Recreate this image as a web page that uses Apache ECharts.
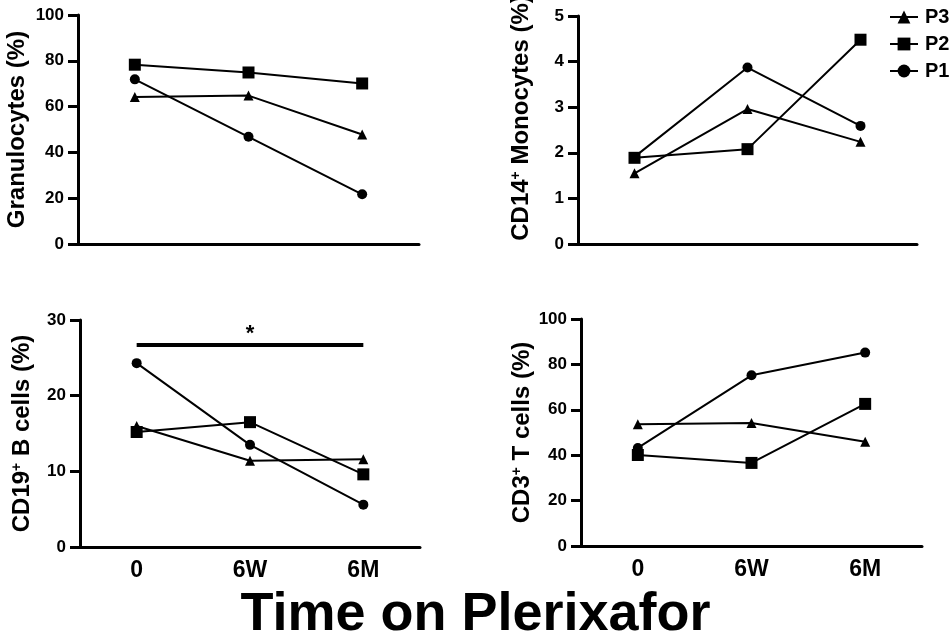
<!DOCTYPE html>
<html>
<head>
<meta charset="utf-8">
<script src="https://cdn.jsdelivr.net/npm/echarts@6/dist/echarts.min.js"></script>
<style>
  html, body { margin: 0; padding: 0; background: #fff; }
  #chart { width: 951px; height: 638px; }
</style>
</head>
<body>
<div id="chart"></div>
<script>
// time points on x
var timepoints = ['0', '6W', '6M'];

// granulocytes (%)
var granP1 = [71.9, 46.8, 21.7];
var granP2 = [78.3, 74.9, 70.1];
var granP3 = [64.2, 64.8, 47.8];

// CD14+ monocytes (%)
var monoP1 = [1.91, 3.87, 2.59];
var monoP2 = [1.89, 2.08, 4.48];
var monoP3 = [1.55, 2.96, 2.24];

// CD19+ B cells (%)
var bP1 = [24.3, 13.5, 5.6];
var bP2 = [15.2, 16.5, 9.6];
var bP3 = [16.0, 11.4, 11.6];
var bSig = [26.7, 26.7, 26.7];

// CD3+ T cells (%)
var tP1 = [43.2, 75.2, 85.2];
var tP2 = [40.1, 36.6, 62.6];
var tP3 = [53.6, 54.2, 45.9];

var FONT = '"Liberation Sans", Arial, sans-serif';

var chart = echarts.init(document.getElementById('chart'));

function xAx(idx, showLabels) {
	return {
		type: 'category',
		gridIndex: idx,
		data: timepoints,
		boundaryGap: true,
		axisLine: { lineStyle: { color: '#000', width: 3 } },
		axisTick: { alignWithLabel: true, length: 8, lineStyle: { color: '#000', width: 3 } },
		axisLabel: { show: showLabels, color: '#000', fontWeight: 'bold', fontSize: 23, fontFamily: FONT, margin: 12 },
		splitLine: { show: false }
	};
}

function yAx(idx, max, interval, name, gap, pad) {
	return {
		type: 'value',
		gridIndex: idx,
		min: 0,
		max: max,
		interval: interval,
		name: name,
		nameLocation: 'middle',
		nameGap: gap,
		nameTextStyle: {
			color: '#000', fontWeight: 'bold', fontSize: 24, fontFamily: FONT,
			padding: pad || 0,
			rich: {
				sup: { fontSize: 14, fontWeight: 'bold', color: '#000', fontFamily: FONT, verticalAlign: 'top', padding: [0, 0, 11, 0] }
			}
		},
		axisLine: { show: true, lineStyle: { color: '#000', width: 3 } },
		axisTick: { show: true, inside: false, length: 10, lineStyle: { color: '#000', width: 3 } },
		axisLabel: { color: '#000', fontWeight: 'bold', fontSize: 17, fontFamily: FONT, margin: 14 },
		splitLine: { show: false }
	};
}

function ser(name, idx, data, symbol, size) {
	return {
		name: name,
		type: 'line',
		xAxisIndex: idx,
		yAxisIndex: idx,
		data: data,
		symbol: symbol,
		symbolSize: size,
		showSymbol: true,
		lineStyle: { color: '#000', width: 2 },
		itemStyle: { color: '#000' },
		emphasis: { disabled: true },
		z: 3
	};
}

function panel(idx, p1, p2, p3) {
	return [
		ser('P1', idx, p1, 'circle', 10),
		ser('P2', idx, p2, 'rect', 12),
		ser('P3', idx, p3, 'triangle', 10)
	];
}

var series = []
	.concat(panel(0, granP1, granP2, granP3))
	.concat(panel(1, monoP1, monoP2, monoP3))
	.concat(panel(2, bP1, bP2, bP3))
	.concat(panel(3, tP1, tP2, tP3));

// significance bar with asterisk
series.push({
	name: 'sig',
	type: 'line',
	xAxisIndex: 2,
	yAxisIndex: 2,
	data: bSig.map(function(v, i) {
		return i === 1 ? { value: v, label: { show: true, formatter: '*' } } : v;
	}),
	symbol: 'circle',
	symbolSize: 0,
	lineStyle: { color: '#000', width: 4 },
	itemStyle: { color: '#000' },
	label: { show: false, position: 'top', distance: 0, color: '#000', fontSize: 22, fontWeight: 'bold', fontFamily: FONT },
	emphasis: { disabled: true },
	silent: true
});

chart.setOption({
	animation: false,
	backgroundColor: '#fff',
	textStyle: { fontFamily: FONT },
	title: {
		text: 'Time on Plerixafor',
		left: 'center',
		top: 583,
		textStyle: { color: '#000', fontWeight: 'bold', fontSize: 54, fontFamily: FONT }
	},
	legend: {
		data: ['P3', 'P2', 'P1'],
		orient: 'vertical',
		left: 884,
		top: 2,
		itemWidth: 28,
		itemHeight: 16,
		itemGap: 7,
		textStyle: { color: '#000', fontWeight: 'bold', fontSize: 20, fontFamily: FONT, padding: [0, 0, 0, 2] },
		selectedMode: false
	},
	grid: [
		{ left: 78, top: 15, width: 341, height: 229, outerBoundsMode: 'none' },
		{ left: 578, top: 16, width: 339, height: 228, outerBoundsMode: 'none' },
		{ left: 80, top: 320, width: 340, height: 227, outerBoundsMode: 'none' },
		{ left: 581, top: 319, width: 341, height: 227, outerBoundsMode: 'none' }
	],
	xAxis: [xAx(0, false), xAx(1, false), xAx(2, true), xAx(3, true)],
	yAxis: [
		yAx(0, 100, 20, 'Granulocytes (%)', 49),
		yAx(1, 5, 1, 'CD14{sup|+} Monocytes (%)', 44, [0, 0, 0, 24]),
		yAx(2, 30, 10, 'CD19{sup|+} B cells (%)', 45),
		yAx(3, 100, 20, 'CD3{sup|+} T cells (%)', 38)
	],
	series: series
});
</script>
</body>
</html>
